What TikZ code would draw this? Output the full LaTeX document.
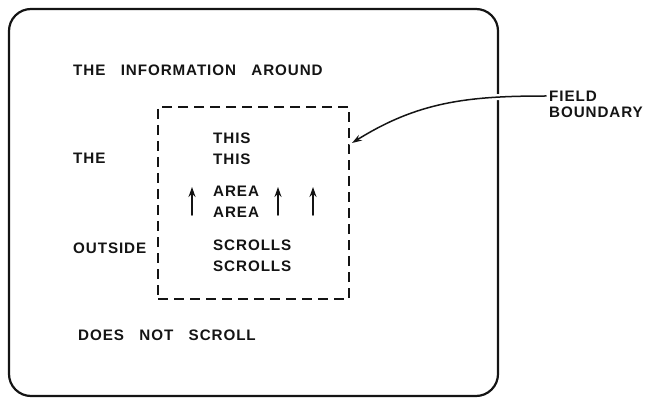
\documentclass[tikz,border=0pt]{standalone}
\usepackage{fontspec}
\setmainfont{Liberation Sans}[LetterSpace=6, WordSpace=3]
\usetikzlibrary{arrows.meta}
\definecolor{inkfg}{HTML}{141414}

\begin{document}
\begin{tikzpicture}[color=inkfg, draw=inkfg, line cap=round, line join=round, >=Stealth, x=1pt, y=-1pt,
    lbl/.style={anchor=west, inner sep=0pt, align=left, font={\fontsize{15.2}{21}\selectfont\bfseries}},
    fieldbox/.style={draw, line width=1.9pt, line cap=butt, dash pattern=on 10pt off 6pt, minimum width=191pt, minimum height=192pt, inner sep=0pt}]
  \useasboundingbox (0,0) rectangle (645,398);
  % screen outline
  \draw[line width=2.2pt, rounded corners=22pt] (9,9) rectangle (498,396);
  % scrolling field
  \node[fieldbox] (fbox) at (253.5,203) {};
  \node[lbl] (info) at (73,70) {THE INFORMATION AROUND};
  \node[lbl] (the) at (73,158) {THE};
  \node[lbl] (outside) at (73,248) {OUTSIDE};
  \node[lbl] (nosc) at (78,335) {DOES NOT SCROLL};
  \node[lbl] (this) at (213,149) {THIS\\THIS};
  \node[lbl] (area) at (213,202) {AREA\\AREA};
  \node[lbl] (scrolls) at (213,256) {SCROLLS\\SCROLLS};
  \foreach \ax in {192,278,313}
    \draw[line width=1.8pt, -{Stealth[length=10pt,width=7pt]}] (\ax,215) -- (\ax,187);
  % callout
  \node[lbl] (field) at (549,96) {FIELD};
  \node[lbl] (bound) at (549,112) {BOUNDARY};
  \coordinate (hit) at (352,143);
  \draw[line width=1.5pt, -{Stealth[length=10pt,width=6.5pt]}, preaction={draw=white, line width=6pt, -}]
    (field.west) ++(-3,0) to[out=180, in=32] (hit);
\end{tikzpicture}
\end{document}
